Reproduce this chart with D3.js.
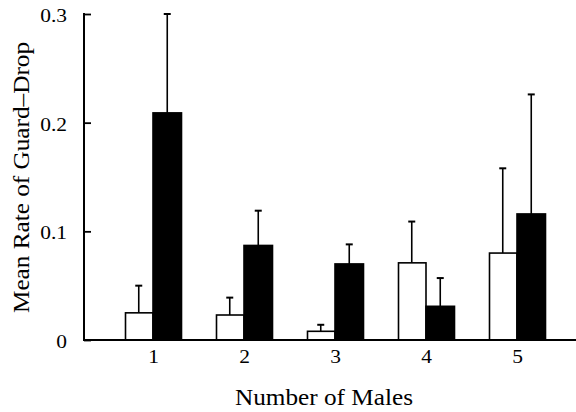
<!DOCTYPE html>
<html>
<head>
<meta charset="utf-8">
<script src="https://cdn.jsdelivr.net/npm/d3@7"></script>
<style>
  html, body { margin: 0; padding: 0; background: #fff; }
  svg { display: block; }
  text { font-family: "Liberation Serif", "Times New Roman", serif; fill: #000; }
</style>
</head>
<body>
<svg id="chart" width="576" height="412"></svg>
<script>
// Number of males in the group
const categories = ["1", "2", "3", "4", "5"];
// Open bars
const openMeans = [0.025, 0.023, 0.008, 0.071, 0.080];
const openErr   = [0.025, 0.016, 0.006, 0.038, 0.078];
// Filled bars
const filledMeans = [0.209, 0.087, 0.070, 0.031, 0.116];
const filledErr   = [0.091, 0.032, 0.018, 0.026, 0.110];
const yTicks = [0, 0.1, 0.2, 0.3];
const yTickLabels = ["0", "0.1", "0.2", "0.3"];

const svg = d3.select("#chart");
const plotLeft = 84, plotRight = 576, plotTop = 14, plotBottom = 340;
const stretch = 1.1; // wide Times-style lettering

const x = d3.scalePoint().domain(categories).range([153, 517]);
const y = d3.scaleLinear().domain([0, 0.3]).range([plotBottom, plotTop]);
const barW = 27.5;

const rows = categories.map((c, i) => ({
  c,
  open: openMeans[i], openE: openErr[i],
  filled: filledMeans[i], filledE: filledErr[i]
}));

// Error bars (drawn first so the bars sit on top)
const errG = svg.append("g").attr("stroke", "#000").attr("stroke-width", 1.6);
function errorBar(cx, v, e) {
  errG.append("line").attr("x1", cx).attr("x2", cx).attr("y1", y(v)).attr("y2", y(v + e));
  errG.append("line").attr("x1", cx - 3.5).attr("x2", cx + 3.5).attr("y1", y(v + e)).attr("y2", y(v + e)).attr("stroke-width", 2);
}
rows.forEach(d => {
  errorBar(x(d.c) - barW / 2 - 0.5, d.open, d.openE);
  errorBar(x(d.c) + barW / 2 + 0.5, d.filled, d.filledE);
});

// Bars
const barG = svg.append("g");
barG.selectAll("rect.open").data(rows).join("rect")
  .attr("class", "open")
  .attr("x", d => x(d.c) - barW)
  .attr("y", d => y(d.open))
  .attr("width", barW)
  .attr("height", d => plotBottom - y(d.open))
  .attr("fill", "#fff").attr("stroke", "#000").attr("stroke-width", 1.6);
barG.selectAll("rect.filled").data(rows).join("rect")
  .attr("class", "filled")
  .attr("x", d => x(d.c))
  .attr("y", d => y(d.filled))
  .attr("width", barW + 1)
  .attr("height", d => plotBottom - y(d.filled))
  .attr("fill", "#000").attr("stroke", "#000").attr("stroke-width", 1.6);

// Y axis with inward ticks
const yAxis = d3.axisRight(y).tickValues(yTicks).tickSize(7).tickFormat("");
const yg = svg.append("g").attr("transform", `translate(${plotLeft},0)`).call(yAxis);
yg.select(".domain").remove();
yg.selectAll(".tick line").attr("stroke", "#000").attr("stroke-width", 1.8);
svg.append("line").attr("x1", plotLeft).attr("x2", plotLeft).attr("y1", plotTop - 1).attr("y2", plotBottom + 1)
  .attr("stroke", "#000").attr("stroke-width", 2);
svg.selectAll("text.ylab").data(yTicks).join("text")
  .attr("class", "ylab")
  .attr("transform", d => `translate(67,${y(d) + 8}) scale(${stretch},1)`)
  .attr("text-anchor", "end").attr("font-size", 19.5)
  .text((d, i) => yTickLabels[i]);

// X axis baseline and category labels
svg.append("line").attr("x1", plotLeft).attr("x2", plotRight).attr("y1", plotBottom).attr("y2", plotBottom)
  .attr("stroke", "#000").attr("stroke-width", 1.8);
const xAxis = d3.axisBottom(x).tickSize(0).tickPadding(0);
const xg = svg.append("g").attr("transform", `translate(0,${plotBottom + 23})`).call(xAxis);
xg.select(".domain").remove();
xg.selectAll(".tick text").attr("font-size", 19.5).attr("font-family", "Liberation Serif, serif")
  .attr("fill", "#000").attr("dy", 0).attr("transform", `scale(${stretch},1)`);

// Axis titles
svg.append("text").attr("x", 324).attr("y", 405).attr("text-anchor", "middle")
  .attr("font-size", 23).attr("textLength", 178).attr("lengthAdjust", "spacingAndGlyphs")
  .text("Number of Males");
svg.append("text").attr("transform", "translate(29,177.5) rotate(-90)")
  .attr("text-anchor", "middle").attr("font-size", 23)
  .attr("textLength", 271).attr("lengthAdjust", "spacingAndGlyphs")
  .text("Mean Rate of Guard\u2013Drop");
</script>
</body>
</html>
